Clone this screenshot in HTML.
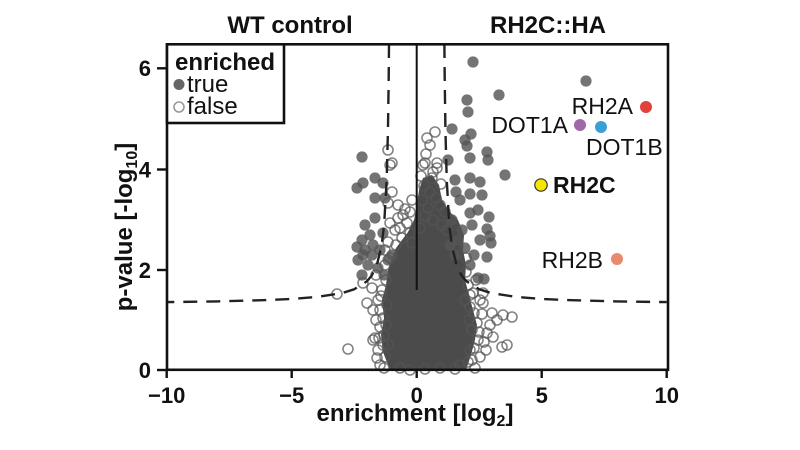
<!DOCTYPE html>
<html><head><meta charset="utf-8"><style>
html,body{margin:0;padding:0;background:#fff;}
svg{display:block;}
text{font-family:"Liberation Sans",Arial,sans-serif;fill:#111;}
</style></head><body>
<svg width="800" height="450" viewBox="0 0 800 450" xmlns="http://www.w3.org/2000/svg">
<rect width="800" height="450" fill="#fff"/>

<!-- dense core -->
<path d="M390,370 L383,352 L381,335 L384,318 L382,300 L386,285 L388,270 L392,258 L396,248 L402,240 L408,232 L414,220 L417,205 L419,190 L423,178 L432,175 L439,185 L442,200 L450,212 L458,220 L464,235 L463,250 L466,265 L465,280 L469,295 L473,310 L477,325 L475,340 L471,355 L466,370 Z" fill="#4b4b4b"/>

<!-- open circles (not enriched) -->
<g fill="none" stroke="#555" stroke-opacity="0.72" stroke-width="1.6">
<circle cx="435" cy="132" r="5"/><circle cx="427" cy="138" r="5"/><circle cx="430" cy="145" r="5"/>
<circle cx="425" cy="163" r="5"/><circle cx="437" cy="168" r="5"/><circle cx="432" cy="178" r="5"/>
<circle cx="424" cy="186" r="5"/><circle cx="430" cy="192" r="5"/><circle cx="436" cy="198" r="5"/>
<circle cx="422" cy="200" r="5"/><circle cx="428" cy="208" r="5"/><circle cx="440" cy="205" r="5"/>
<circle cx="425" cy="216" r="5"/><circle cx="433" cy="220" r="5"/><circle cx="420" cy="228" r="5"/>
<circle cx="442" cy="225" r="5"/><circle cx="423" cy="165" r="5"/><circle cx="437" cy="163" r="5"/>
<circle cx="433" cy="172" r="5"/><circle cx="421" cy="176" r="5"/><circle cx="441" cy="184" r="5"/>
<circle cx="445" cy="212" r="5"/><circle cx="447" cy="230" r="5"/><circle cx="426" cy="154" r="5"/>
<circle cx="388" cy="150" r="5"/><circle cx="392" cy="163" r="5"/><circle cx="390" cy="165" r="5"/>
<circle cx="392" cy="192" r="5"/><circle cx="388" cy="203" r="5"/><circle cx="405" cy="209" r="5"/>
<circle cx="398" cy="218" r="5"/><circle cx="390" cy="223" r="5"/><circle cx="407" cy="223" r="5"/>
<circle cx="395" cy="230" r="5"/><circle cx="410" cy="233" r="5"/><circle cx="402" cy="238" r="5"/>
<circle cx="388" cy="242" r="5"/><circle cx="412" cy="243" r="5"/><circle cx="400" cy="228" r="5"/>
<circle cx="396" cy="245" r="5"/><circle cx="385" cy="250" r="5"/><circle cx="403" cy="215" r="5"/>
<circle cx="410" cy="212" r="5"/><circle cx="412" cy="200" r="5"/><circle cx="398" cy="205" r="5"/>
<circle cx="337" cy="294" r="5"/><circle cx="348" cy="349" r="5"/><circle cx="373" cy="340" r="5"/>
<circle cx="375" cy="338" r="5"/><circle cx="367" cy="303" r="5"/><circle cx="373" cy="310" r="5"/>
<circle cx="363" cy="283" r="5"/><circle cx="372" cy="288" r="5"/><circle cx="380" cy="327" r="5"/>
<circle cx="385" cy="357" r="5"/><circle cx="378" cy="300" r="5"/><circle cx="383" cy="318" r="5"/>
<circle cx="376" cy="275" r="5"/><circle cx="382" cy="290" r="5"/><circle cx="388" cy="345" r="5"/>
<circle cx="380" cy="365" r="5"/><circle cx="384" cy="368" r="5"/><circle cx="378" cy="350" r="5"/>
<circle cx="380" cy="310" r="5"/><circle cx="384" cy="335" r="5"/><circle cx="386" cy="280" r="5"/>
<circle cx="376" cy="320" r="5"/><circle cx="379" cy="338" r="5"/><circle cx="377" cy="358" r="5"/>
<circle cx="381" cy="296" r="5"/><circle cx="385" cy="265" r="5"/><circle cx="390" cy="258" r="5"/>
<circle cx="387" cy="305" r="5"/><circle cx="386" cy="325" r="5"/><circle cx="383" cy="345" r="5"/>
<circle cx="483" cy="303" r="5"/><circle cx="492" cy="313" r="5"/><circle cx="503" cy="315" r="5"/>
<circle cx="512" cy="317" r="5"/><circle cx="497" cy="320" r="5"/><circle cx="507" cy="345" r="5"/>
<circle cx="502" cy="347" r="5"/><circle cx="487" cy="333" r="5"/><circle cx="493" cy="337" r="5"/>
<circle cx="480" cy="300" r="5"/><circle cx="473" cy="293" r="5"/><circle cx="483" cy="293" r="5"/>
<circle cx="470" cy="307" r="5"/><circle cx="477" cy="323" r="5"/><circle cx="480" cy="357" r="5"/>
<circle cx="475" cy="368" r="5"/><circle cx="468" cy="285" r="5"/><circle cx="476" cy="280" r="5"/>
<circle cx="472" cy="330" r="5"/><circle cx="478" cy="340" r="5"/><circle cx="486" cy="350" r="5"/>
<circle cx="468" cy="362" r="5"/><circle cx="490" cy="325" r="5"/><circle cx="465" cy="300" r="5"/>
<circle cx="470" cy="350" r="5"/><circle cx="460" cy="365" r="5"/><circle cx="466" cy="272" r="5"/>
<circle cx="474" cy="313" r="5"/><circle cx="482" cy="314" r="5"/><circle cx="484" cy="342" r="5"/>
<circle cx="469" cy="320" r="5"/><circle cx="474" cy="348" r="5"/><circle cx="466" cy="258" r="5"/>
<circle cx="470" cy="295" r="5"/><circle cx="479" cy="332" r="5"/><circle cx="472" cy="360" r="5"/>
<circle cx="400" cy="368" r="5"/><circle cx="410" cy="370" r="5"/><circle cx="425" cy="369" r="5"/>
<circle cx="440" cy="368" r="5"/><circle cx="455" cy="369" r="5"/>
</g>

<!-- filled circles (enriched) -->
<g fill="#555" fill-opacity="0.82">
<circle cx="362" cy="157" r="5.6"/><circle cx="375" cy="178" r="5.6"/><circle cx="357" cy="188" r="5.6"/>
<circle cx="363" cy="183" r="5.6"/><circle cx="383" cy="183" r="5.6"/><circle cx="375" cy="198" r="5.6"/>
<circle cx="385" cy="198" r="5.6"/><circle cx="365" cy="225" r="5.6"/><circle cx="375" cy="218" r="5.6"/>
<circle cx="362" cy="240" r="5.6"/><circle cx="358" cy="260" r="5.6"/><circle cx="365" cy="250" r="5.6"/>
<circle cx="372" cy="255" r="5.6"/><circle cx="383" cy="233" r="5.6"/><circle cx="357" cy="247" r="5.6"/>
<circle cx="363" cy="255" r="5.6"/><circle cx="373" cy="245" r="5.6"/><circle cx="368" cy="265" r="5.6"/>
<circle cx="362" cy="275" r="5.6"/><circle cx="380" cy="250" r="5.6"/><circle cx="388" cy="260" r="5.6"/>
<circle cx="378" cy="268" r="5.6"/><circle cx="370" cy="235" r="5.6"/><circle cx="392" cy="255" r="5.6"/>
<circle cx="384" cy="275" r="5.6"/>
<circle cx="473" cy="62" r="5.6"/><circle cx="499" cy="95" r="5.6"/><circle cx="467" cy="100" r="5.6"/>
<circle cx="468" cy="112" r="5.6"/><circle cx="452" cy="129" r="5.6"/><circle cx="471" cy="134" r="5.6"/>
<circle cx="465" cy="140" r="5.6"/><circle cx="467" cy="146" r="5.6"/><circle cx="470" cy="158" r="5.6"/>
<circle cx="488" cy="160" r="5.6"/><circle cx="487" cy="152" r="5.6"/><circle cx="505" cy="175" r="5.6"/>
<circle cx="470" cy="178" r="5.6"/><circle cx="480" cy="182" r="5.6"/><circle cx="455" cy="180" r="5.6"/>
<circle cx="470" cy="194" r="5.6"/><circle cx="482" cy="195" r="5.6"/><circle cx="478" cy="210" r="5.6"/>
<circle cx="489" cy="217" r="5.6"/><circle cx="470" cy="213" r="5.6"/><circle cx="452" cy="220" r="5.6"/>
<circle cx="472" cy="225" r="5.6"/><circle cx="487" cy="229" r="5.6"/><circle cx="490" cy="236" r="5.6"/>
<circle cx="480" cy="240" r="5.6"/><circle cx="491" cy="243" r="5.6"/><circle cx="487" cy="257" r="5.6"/>
<circle cx="474" cy="255" r="5.6"/><circle cx="470" cy="265" r="5.6"/><circle cx="478" cy="278" r="5.6"/>
<circle cx="484" cy="279" r="5.6"/><circle cx="460" cy="200" r="5.6"/><circle cx="458" cy="240" r="5.6"/>
<circle cx="465" cy="248" r="5.6"/><circle cx="455" cy="255" r="5.6"/><circle cx="462" cy="230" r="5.6"/>
<circle cx="450" cy="245" r="5.6"/><circle cx="448" cy="160" r="5.6"/><circle cx="456" cy="192" r="5.6"/>
<circle cx="586" cy="81" r="5.6"/>
</g>

<!-- zero line -->
<line x1="416.7" y1="44" x2="416.7" y2="290" stroke="#111" stroke-width="2"/>

<!-- threshold curves -->
<g fill="none" stroke="#222" stroke-width="2.4" stroke-dasharray="14 9">
<polyline points="444.4,44 444.7,78.3 445.45,130.6 446.7,178.9 449.2,223.8 451.7,245.1 456.7,265.6 461.7,275.6 466.7,281.5 479.2,289.3 491.7,293.2 516.7,297 541.7,298.9 566.7,300.1 616.7,301.4 666.7,302.1"/>
<polyline points="389,44 388.7,78.3 387.95,130.6 386.7,178.9 384.2,223.8 381.7,245.1 376.7,265.6 371.7,275.6 366.7,281.5 354.2,289.3 341.7,293.2 316.7,297 291.7,298.9 266.7,300.1 216.7,301.4 166.7,302.1"/>
</g>

<!-- highlighted proteins -->
<circle cx="646" cy="107" r="6" fill="#e0413a"/>
<circle cx="580" cy="125" r="6" fill="#a066a8"/>
<circle cx="601" cy="127" r="6" fill="#3b9fd6"/>
<circle cx="541" cy="185" r="6.2" fill="#f7e600" stroke="#333" stroke-width="1.2"/>
<circle cx="617" cy="259" r="6" fill="#e98a6f"/>
<text x="633" y="114" font-size="23" text-anchor="end">RH2A</text>
<text x="568" y="133" font-size="23" text-anchor="end">DOT1A</text>
<text x="586" y="155" font-size="23">DOT1B</text>
<text x="553" y="193" font-size="23" font-weight="bold">RH2C</text>
<text x="603" y="268" font-size="23" text-anchor="end">RH2B</text>

<!-- frame -->
<rect x="167" y="44.3" width="501" height="325.5" fill="none" stroke="#111" stroke-width="2.6"/>

<!-- ticks -->
<g stroke="#111" stroke-width="2.4">
<line x1="157" y1="68.3" x2="167" y2="68.3"/>
<line x1="157" y1="169.5" x2="167" y2="169.5"/>
<line x1="157" y1="270" x2="167" y2="270"/>
<line x1="157" y1="370" x2="167" y2="370"/>
<line x1="166.7" y1="370" x2="166.7" y2="378"/>
<line x1="291.7" y1="370" x2="291.7" y2="378"/>
<line x1="416.7" y1="370" x2="416.7" y2="378"/>
<line x1="541.7" y1="370" x2="541.7" y2="378"/>
<line x1="666.7" y1="370" x2="666.7" y2="378"/>
</g>
<g font-size="22" font-weight="bold">
<text x="151" y="76" text-anchor="end">6</text>
<text x="151" y="177.5" text-anchor="end">4</text>
<text x="151" y="278" text-anchor="end">2</text>
<text x="151" y="378" text-anchor="end">0</text>
<text x="166.7" y="403" text-anchor="middle">−10</text>
<text x="291.7" y="403" text-anchor="middle">−5</text>
<text x="416.7" y="403" text-anchor="middle">0</text>
<text x="541.7" y="403" text-anchor="middle">5</text>
<text x="666.7" y="403" text-anchor="middle">10</text>
</g>

<!-- axis labels -->
<text x="415" y="421" font-size="24" font-weight="bold" text-anchor="middle">enrichment [log<tspan font-size="16" dy="5">2</tspan><tspan dy="-5">]</tspan></text>
<text transform="translate(132,227) rotate(-90)" font-size="24" font-weight="bold" text-anchor="middle">p-value [-log<tspan font-size="16" dy="5">10</tspan><tspan dy="-5">]</tspan></text>

<!-- titles -->
<text x="290" y="33" font-size="24" font-weight="bold" text-anchor="middle">WT control</text>
<text x="548" y="33" font-size="24" font-weight="bold" text-anchor="middle">RH2C::HA</text>

<!-- legend -->
<rect x="167" y="44.3" width="117" height="78.7" fill="#fff" stroke="#111" stroke-width="2.6"/>
<text x="175" y="70" font-size="24" font-weight="bold">enriched</text>
<circle cx="179" cy="84.5" r="5.5" fill="#666"/>
<text x="187" y="92" font-size="24">true</text>
<circle cx="179" cy="107" r="5" fill="none" stroke="#999" stroke-width="1.6"/>
<text x="187" y="114" font-size="24">false</text>
</svg>
</body></html>
